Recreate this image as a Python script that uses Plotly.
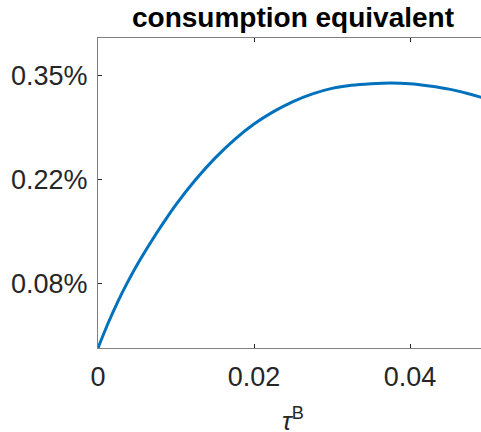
import plotly.graph_objects as go

# bond tax rate and welfare gain (consumption equivalent, in percent)
tau_b = [0.0, 0.00125, 0.0025, 0.00375, 0.005, 0.00625, 0.0075, 0.00875,
         0.01, 0.0125, 0.015, 0.0175, 0.02, 0.0225, 0.025, 0.0275, 0.03,
         0.0325, 0.035, 0.0375, 0.04, 0.0425, 0.045, 0.0475, 0.05]
ce_pct = [0.0, 0.031, 0.059, 0.084, 0.107, 0.128, 0.148, 0.167,
          0.185, 0.217, 0.245, 0.269, 0.289, 0.305, 0.318, 0.328, 0.335,
          0.339, 0.341, 0.342, 0.341, 0.338, 0.334, 0.328, 0.321]

x_ticks = [0, 0.02, 0.04]
x_ticktext = ["0", "0.02", "0.04"]
y_ticks = [0.0834, 0.2175, 0.3516]
y_ticktext = ["0.08%", "0.22%", "0.35%"]

axis_color = "#262626"
font_family = "Liberation Sans, Arial, Helvetica, sans-serif"

fig = go.Figure()
fig.add_trace(go.Scatter(
    x=tau_b, y=ce_pct, mode="lines",
    line=dict(color="#0072BD", width=3, shape="spline", smoothing=0.6),
    hoverinfo="skip", showlegend=False,
))

fig.update_layout(
    width=481, height=432,
    margin=dict(l=98, r=0, t=38, b=84),
    paper_bgcolor="white", plot_bgcolor="white",
    font=dict(family=font_family, color=axis_color, size=27),
    xaxis=dict(
        range=[0, 0.0491], tickvals=x_ticks, ticktext=x_ticktext,
        showgrid=False, zeroline=False,
        showline=True, linecolor="#808080", linewidth=1, mirror="ticks",
        ticks="inside", ticklen=4, tickcolor=axis_color,
        ticklabelstandoff=5,
        tickfont=dict(size=27, color=axis_color),
    ),
    yaxis=dict(
        range=[0, 0.4], tickvals=y_ticks, ticktext=y_ticktext,
        showgrid=False, zeroline=False,
        showline=True, linecolor="#808080", linewidth=1,
        ticks="inside", ticklen=4, tickcolor=axis_color,
        ticklabelstandoff=4,
        tickfont=dict(size=27, color=axis_color),
    ),
)

# title above the axes, centred on the full 0–0.05 axis span
fig.add_annotation(
    text="<b>consumption equivalent</b>",
    x=0.509, xref="paper", xanchor="center",
    y=1.0, yref="paper", yanchor="bottom", yshift=3,
    showarrow=False,
    font=dict(size=28, color="black", family=font_family),
)

# x-axis label
fig.add_annotation(
    text="<i>τ</i><sup>B</sup>",
    x=0.509, xref="paper", xanchor="center",
    y=-0.271, yref="paper", yanchor="bottom", yshift=-6,
    showarrow=False,
    font=dict(size=26, color=axis_color, family=font_family),
)

fig.write_html("out.html")
